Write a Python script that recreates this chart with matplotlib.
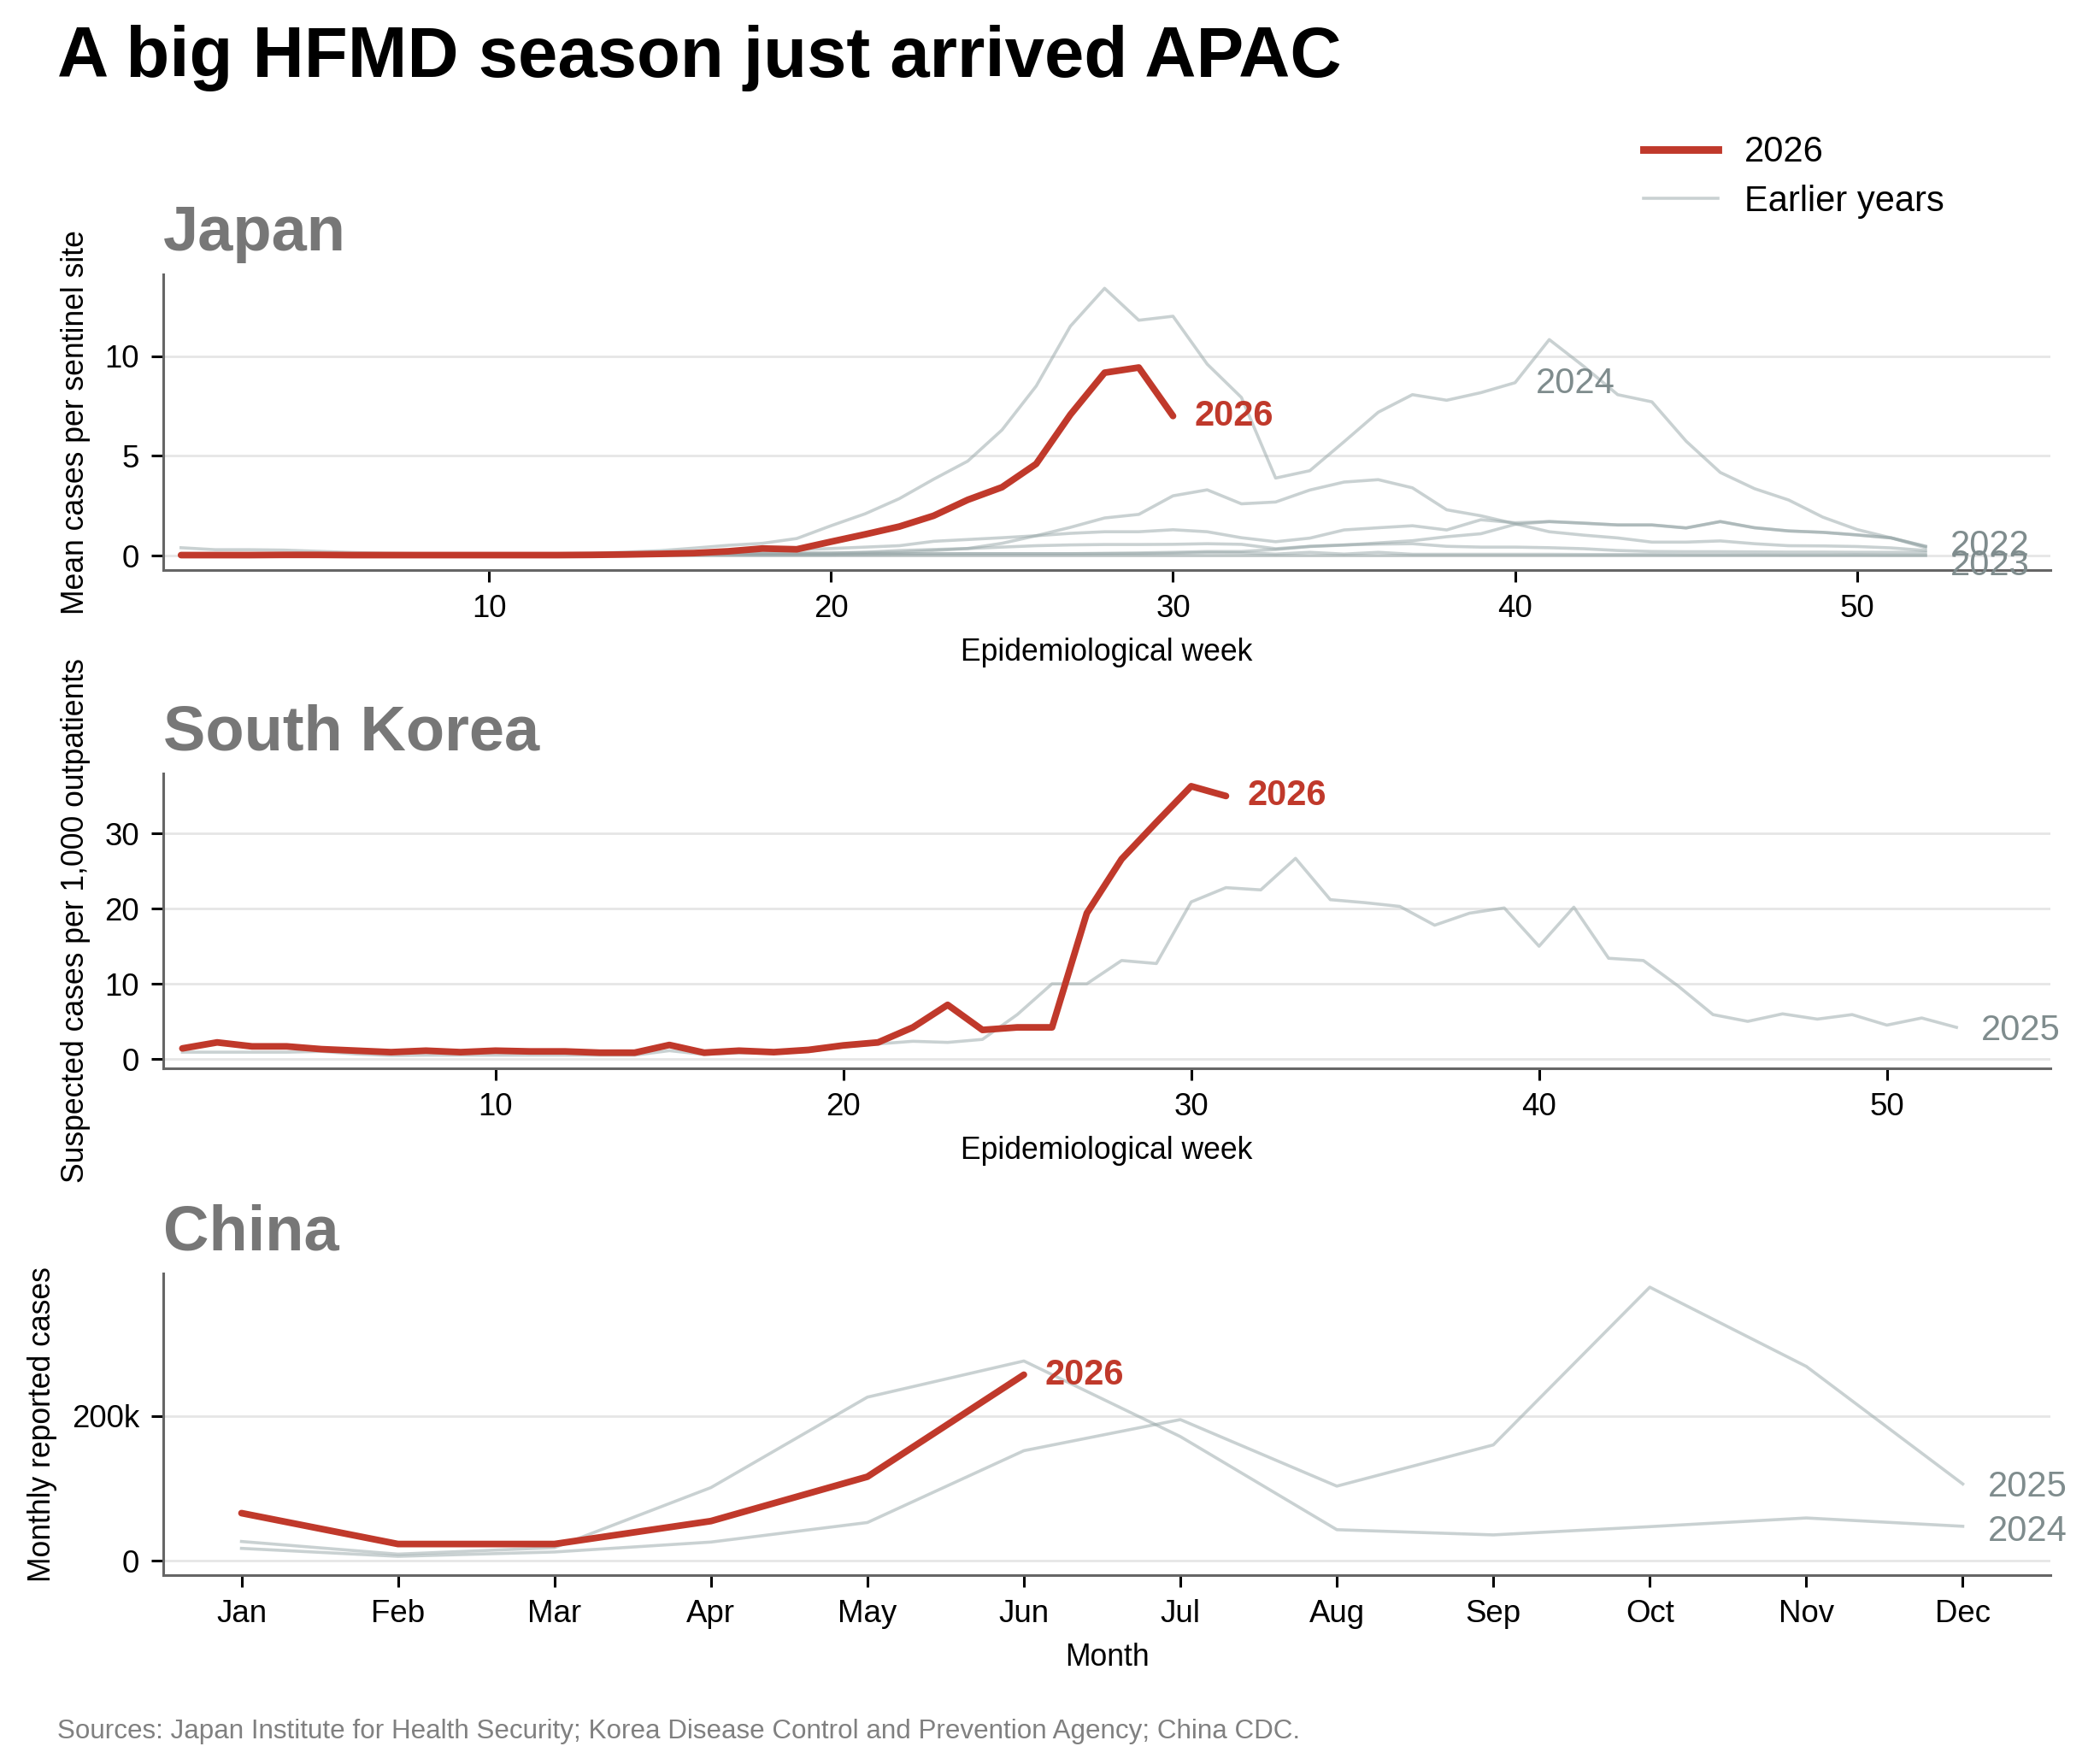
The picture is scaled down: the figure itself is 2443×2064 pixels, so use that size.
import matplotlib
matplotlib.use('Agg')
import matplotlib.pyplot as plt
from matplotlib.lines import Line2D
from matplotlib.ticker import FuncFormatter

plt.rcParams['font.family'] = ['Liberation Sans', 'DejaVu Sans']

# ---------------- data ----------------
weeks = list(range(1, 53))

jp_2026 = [0.03, 0.03, 0.03, 0.04, 0.04, 0.03, 0.03, 0.03, 0.03, 0.03,
           0.03, 0.03, 0.04, 0.06, 0.09, 0.13, 0.22, 0.36, 0.32, 0.70,
           1.07, 1.46, 2.00, 2.80, 3.43, 4.60, 7.07, 9.17, 9.43, 7.00]

jp_2024 = [0.40, 0.30, 0.30, 0.28, 0.22, 0.16, 0.12, 0.10, 0.10, 0.10,
           0.10, 0.10, 0.12, 0.18, 0.25, 0.38, 0.52, 0.62, 0.86, 1.50,
           2.10, 2.86, 3.83, 4.74, 6.30, 8.50, 11.50, 13.40, 11.80, 12.00,
           9.60, 7.93, 3.89, 4.26, 5.71, 7.19, 8.07, 7.79, 8.17, 8.67,
           10.83, 9.50, 8.07, 7.71, 5.74, 4.17, 3.36, 2.79, 1.93, 1.31,
           0.89, 0.40]

jp_2025 = [0.05, 0.05, 0.05, 0.05, 0.05, 0.05, 0.05, 0.05, 0.05, 0.05,
           0.05, 0.05, 0.05, 0.06, 0.07, 0.08, 0.10, 0.12, 0.14, 0.15,
           0.16, 0.17, 0.26, 0.36, 0.62, 1.00, 1.42, 1.89, 2.07, 3.00,
           3.30, 2.60, 2.69, 3.29, 3.69, 3.81, 3.40, 2.30, 2.00, 1.60,
           1.20, 1.03, 0.89, 0.68, 0.68, 0.74, 0.60, 0.50, 0.49, 0.46,
           0.39, 0.26]

jp_2021 = [0.06, 0.06, 0.06, 0.06, 0.06, 0.06, 0.06, 0.06, 0.06, 0.06,
           0.06, 0.06, 0.06, 0.08, 0.10, 0.15, 0.20, 0.25, 0.30, 0.36,
           0.43, 0.50, 0.72, 0.81, 0.90, 1.00, 1.12, 1.20, 1.20, 1.30,
           1.20, 0.90, 0.70, 0.88, 1.29, 1.40, 1.50, 1.29, 1.80, 1.65,
           1.71, 1.63, 1.54, 1.54, 1.39, 1.71, 1.40, 1.24, 1.17, 1.04,
           0.89, 0.47]

jp_2022 = [0.08, 0.08, 0.08, 0.08, 0.08, 0.08, 0.08, 0.08, 0.08, 0.08,
           0.08, 0.08, 0.08, 0.08, 0.08, 0.08, 0.08, 0.08, 0.08, 0.08,
           0.09, 0.10, 0.10, 0.10, 0.10, 0.10, 0.10, 0.12, 0.14, 0.17,
           0.21, 0.21, 0.31, 0.46, 0.53, 0.64, 0.75, 0.95, 1.10, 1.57,
           1.71, 1.63, 1.54, 1.54, 1.39, 1.71, 1.40, 1.24, 1.17, 1.04,
           0.89, 0.47]

jp_2019 = [0.10, 0.10, 0.10, 0.10, 0.10, 0.10, 0.10, 0.10, 0.10, 0.10,
           0.10, 0.10, 0.10, 0.10, 0.10, 0.10, 0.10, 0.10, 0.10, 0.11,
           0.17, 0.26, 0.31, 0.36, 0.43, 0.50, 0.54, 0.56, 0.56, 0.57,
           0.60, 0.57, 0.35, 0.47, 0.54, 0.58, 0.60, 0.47, 0.43, 0.43,
           0.40, 0.35, 0.26, 0.21, 0.20, 0.20, 0.19, 0.18, 0.18, 0.17,
           0.17, 0.17]

jp_2023 = [0.04, 0.04, 0.04, 0.04, 0.04, 0.04, 0.04, 0.04, 0.04, 0.04,
           0.04, 0.04, 0.04, 0.04, 0.04, 0.04, 0.04, 0.04, 0.04, 0.04,
           0.06, 0.08, 0.09, 0.10, 0.10, 0.10, 0.10, 0.10, 0.10, 0.12,
           0.16, 0.15, 0.08, 0.17, 0.08, 0.17, 0.07, 0.07, 0.07, 0.07,
           0.07, 0.06, 0.06, 0.06, 0.05, 0.05, 0.05, 0.04, 0.04, 0.04,
           0.03, 0.03]

jp_2020 = [0.02, 0.02, 0.02, 0.02, 0.02, 0.02, 0.02, 0.02, 0.02, 0.02,
           0.02, 0.02, 0.02, 0.02, 0.02, 0.02, 0.02, 0.02, 0.02, 0.02,
           0.02, 0.02, 0.02, 0.02, 0.02, 0.02, 0.02, 0.02, 0.02, 0.02,
           0.02, 0.02, 0.02, 0.02, 0.02, 0.02, 0.02, 0.02, 0.02, 0.02,
           0.02, 0.02, 0.02, 0.02, 0.02, 0.02, 0.02, 0.02, 0.02, 0.02,
           0.02, 0.02]

kr_2026 = [1.4, 2.2, 1.67, 1.67, 1.3, 1.1, 0.9, 1.1, 0.9, 1.1,
           1.0, 1.0, 0.83, 0.83, 1.86, 0.83, 1.1, 0.9, 1.2, 1.8,
           2.2, 4.2, 7.2, 3.86, 4.2, 4.2, 19.4, 26.6, 31.5, 36.3,
           35.0]

kr_2025 = [0.9, 0.9, 0.9, 0.9, 1.0, 0.65, 0.45, 0.5, 0.5, 0.5,
           0.5, 0.5, 0.5, 0.5, 1.1, 0.6, 0.8, 0.8, 1.0, 1.6,
           2.0, 2.35, 2.2, 2.6, 5.9, 10.0, 10.0, 13.1, 12.7, 20.9,
           22.8, 22.5, 26.7, 21.2, 20.8, 20.3, 17.8, 19.4, 20.1, 15.0,
           20.2, 13.4, 13.1, 9.7, 5.9, 5.0, 6.0, 5.3, 5.9, 4.5,
           5.45, 4.2]

months = ['Jan', 'Feb', 'Mar', 'Apr', 'May', 'Jun',
          'Jul', 'Aug', 'Sep', 'Oct', 'Nov', 'Dec']
cn_2026 = [65700, 23000, 23000, 54700, 116000, 257000]
cn_2024 = [26500, 9000, 18000, 101000, 226000, 276000,
           171500, 42800, 35600, 47000, 59000, 47500]
cn_2025 = [17000, 6000, 12000, 25700, 52700, 152000,
           195000, 103000, 160000, 378000, 268500, 106000]

# ---------------- style ----------------
RED = '#c0392b'
GRAY = '#95a5a6'
LABEL_GRAY = '#7f8c8d'
TITLE_GRAY = '#777777'
W, H, DPI = 2443, 2064, 200

fig = plt.figure(figsize=(W / DPI, H / DPI), dpi=DPI)


def style(ax):
    for s in ['top', 'right']:
        ax.spines[s].set_visible(False)
    for s in ['left', 'bottom']:
        ax.spines[s].set_color('#666666')
        ax.spines[s].set_linewidth(1.1)
    ax.tick_params(axis='both', length=5, width=1.1, color='black',
                   labelsize=13.2, pad=5)
    ax.yaxis.grid(True, color='#e6e6e6', lw=1.0)
    ax.set_axisbelow(True)


def gray_line(ax, x, y):
    ax.plot(x, y, color=GRAY, alpha=0.5, lw=1.3, zorder=2)


def red_line(ax, x, y):
    ax.plot(x, y, color=RED, lw=2.8, zorder=4, solid_capstyle='round')


def end_label(ax, x, y, text, red=False, dy=0.0):
    ax.annotate(text, xy=(x, y), xytext=(9 if red else 10.5, dy),
                textcoords='offset points', ha='left', va='center',
                fontsize=15, color=RED if red else LABEL_GRAY,
                fontweight='bold' if red else 'normal',
                annotation_clip=False, zorder=5)


left = 191 / W
width = (2399 - 191) / W

# ---------------- Japan ----------------
ax1 = fig.add_axes([left, 1 - 667 / H, width, (667 - 321) / H])
style(ax1)
for series in [jp_2020, jp_2023, jp_2019, jp_2022, jp_2021, jp_2025, jp_2024]:
    gray_line(ax1, weeks, series)
red_line(ax1, weeks[:len(jp_2026)], jp_2026)
end_label(ax1, weeks[len(jp_2026) - 1], jp_2026[-1], '2026', red=True)
end_label(ax1, weeks[-1], jp_2022[-1], '2022')
end_label(ax1, weeks[-1], jp_2023[-1], '2023', dy=-4.5)
ax1.text(40.6, 8.6, '2024', fontsize=15, color=LABEL_GRAY, ha='left',
         va='center', zorder=5)
ax1.set_xlim(0.48, 55.65)
ax1.set_ylim(-0.72, 14.1)
ax1.set_xticks([10, 20, 30, 40, 50])
ax1.set_yticks([0, 5, 10])
ax1.set_xlabel('Epidemiological week', fontsize=12.8, labelpad=6)
ax1.set_ylabel('Mean cases per sentinel site', fontsize=12.8, labelpad=6)
ax1.set_title('Japan', loc='left', fontsize=26.7, fontweight='bold',
              color=TITLE_GRAY, pad=10)

# ---------------- South Korea ----------------
ax2 = fig.add_axes([left, 1 - 1250 / H, width, (1250 - 905) / H])
style(ax2)
gray_line(ax2, weeks, kr_2025)
red_line(ax2, weeks[:len(kr_2026)], kr_2026)
end_label(ax2, weeks[len(kr_2026) - 1], kr_2026[-1], '2026', red=True)
end_label(ax2, weeks[-1], kr_2025[-1], '2025', dy=-1.4)
ax2.set_xlim(0.45, 54.7)
ax2.set_ylim(-1.25, 38)
ax2.set_xticks([10, 20, 30, 40, 50])
ax2.set_yticks([0, 10, 20, 30])
ax2.set_xlabel('Epidemiological week', fontsize=12.8, labelpad=6)
ax2.set_ylabel('Suspected cases per 1,000 outpatients', fontsize=12.8,
               labelpad=6)
ax2.set_title('South Korea', loc='left', fontsize=26.7, fontweight='bold',
              color=TITLE_GRAY, pad=10)

# ---------------- China ----------------
ax3 = fig.add_axes([left, 1 - 1843 / H, width, (1843 - 1490) / H])
style(ax3)
mx = list(range(len(months)))
gray_line(ax3, mx, cn_2024)
gray_line(ax3, mx, cn_2025)
red_line(ax3, mx[:len(cn_2026)], cn_2026)
end_label(ax3, mx[len(cn_2026) - 1], cn_2026[-1], '2026', red=True)
end_label(ax3, mx[-1], cn_2025[-1], '2025', dy=-1.2)
end_label(ax3, mx[-1], cn_2024[-1], '2024', dy=-2.3)
ax3.set_xlim(-0.5, 11.56)
ax3.set_ylim(-20000, 397000)
ax3.set_xticks(mx)
ax3.set_xticklabels(months)
ax3.set_yticks([0, 200000])
ax3.yaxis.set_major_formatter(
    FuncFormatter(lambda v, p: '0' if v == 0 else f'{int(v / 1000)}k'))
ax3.set_xlabel('Month', fontsize=12.8, labelpad=6)
ax3.set_ylabel('Monthly reported cases', fontsize=12.8, labelpad=6)
ax3.set_title('China', loc='left', fontsize=26.7, fontweight='bold',
              color=TITLE_GRAY, pad=10)

# ---------------- title, legend, source ----------------
fig.text(67 / W, 1 - 90 / H, 'A big HFMD season just arrived APAC',
         fontsize=30, fontweight='bold', ha='left', va='baseline')

handles = [Line2D([], [], color=RED, lw=3.2),
           Line2D([], [], color=GRAY, alpha=0.5, lw=1.3)]
fig.legend(handles, ['2026', 'Earlier years'], loc='upper left',
           bbox_to_anchor=(1885 / W, 1 - 121 / H), frameon=False,
           fontsize=15, handlelength=2.1, handletextpad=0.75,
           labelspacing=0.42, borderpad=0.4)

fig.text(67 / W, 1 - 2026 / H,
         'Sources: Japan Institute for Health Security; Korea Disease Control '
         'and Prevention Agency; China CDC.',
         fontsize=11.3, color='#808080', ha='left', va='center')

fig.savefig('out.png', dpi=DPI)
